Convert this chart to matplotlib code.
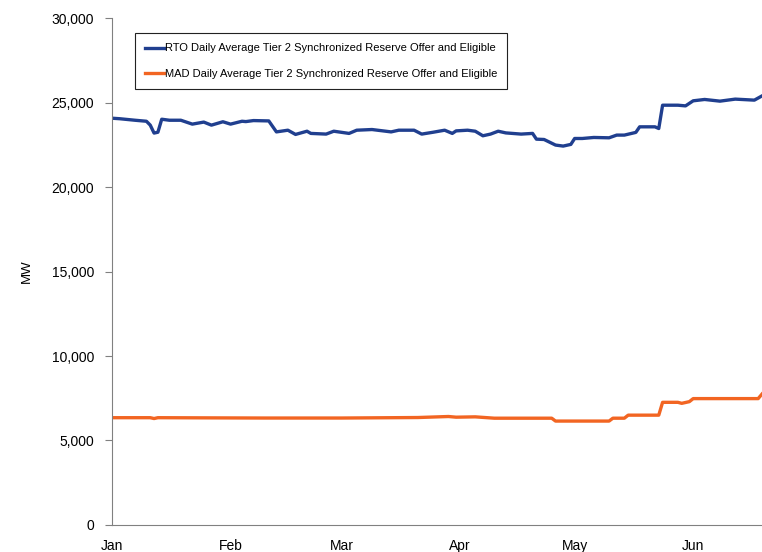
import matplotlib
matplotlib.use('Agg')
import matplotlib.pyplot as plt
from matplotlib.ticker import FuncFormatter

# day offsets from Jan 1
rto_days = [0, 2, 6, 9, 10, 11, 12, 13, 15, 18, 21, 24, 26, 29, 31, 34, 35, 37, 41,
            43, 46, 48, 51, 52, 56, 58, 62, 64, 68, 73, 75, 79, 81, 84, 87, 89, 90,
            93, 95, 97, 99, 101, 103, 107, 110, 111, 113, 116, 118, 120, 121, 123,
            126, 130, 132, 134, 137, 138, 142, 143, 144, 148, 150, 152, 155, 159,
            163, 168, 170]
rto_mw = [24080, 24050, 23960, 23900, 23670, 23200, 23250, 24020, 23960, 23960,
          23730, 23850, 23670, 23870, 23730, 23900, 23880, 23940, 23920,
          23270, 23370, 23120, 23310, 23180, 23140, 23310, 23180, 23370, 23410,
          23270, 23370, 23370, 23140, 23250, 23370, 23180, 23330,
          23370, 23310, 23040, 23140, 23310, 23210, 23140, 23180, 22840, 22820,
          22490, 22430, 22530, 22880, 22880,
          22940, 22920, 23080, 23080, 23240, 23570, 23570, 23470, 24850, 24850,
          24810, 25110, 25190, 25090, 25210, 25150, 25400]

mad_days = [0, 10, 11, 12, 25, 40, 60, 80, 88, 90, 95, 100, 115, 116, 130, 131,
            134, 135, 143, 144, 148, 149, 151, 152, 169, 170]
mad_mw = [6350, 6350, 6300, 6350, 6340, 6330, 6330, 6360, 6420, 6380, 6400, 6320,
          6320, 6150, 6150, 6320, 6320, 6500, 6500, 7260, 7260, 7200, 7300, 7480,
          7480, 7750]

month_labels = ['Jan', 'Feb', 'Mar', 'Apr', 'May', 'Jun']
month_starts = [0, 31, 60, 91, 121, 152]

plt.rcParams['font.family'] = ['Liberation Sans', 'DejaVu Sans']

fig = plt.figure(figsize=(7.62, 5.52), dpi=100)
ax = fig.add_axes([0.147, 0.049, 0.853, 0.918])

ax.plot(rto_days, rto_mw, color='#203f8f', lw=2.4,
        label='RTO Daily Average Tier 2 Synchronized Reserve Offer and Eligible')
ax.plot(mad_days, mad_mw, color='#f26522', lw=2.4,
        label='MAD Daily Average Tier 2 Synchronized Reserve Offer and Eligible')

ax.set_xlim(0, 170)
ax.set_ylim(0, 30000)
ax.set_yticks(range(0, 30001, 5000))
ax.yaxis.set_major_formatter(FuncFormatter(lambda v, p: f'{int(v):,}'))
ax.set_xticks(month_starts)
ax.set_xticklabels(month_labels)
ax.set_ylabel('MW', fontsize=9.5)
ax.yaxis.set_label_coords(-0.122, 0.5)

for s in ['top', 'right']:
    ax.spines[s].set_visible(False)
for s in ['left', 'bottom']:
    ax.spines[s].set_color('#808080')
ax.tick_params(axis='y', length=5, color='#808080', labelsize=10, pad=8)
ax.tick_params(axis='x', length=0, labelsize=10, pad=10)

leg = ax.legend(loc='upper left', bbox_to_anchor=(0.035, 0.97), fontsize=8,
                frameon=True, fancybox=False, edgecolor='#222222', framealpha=1,
                handlelength=1.7, handletextpad=0.1, labelspacing=1.4,
                borderpad=0.9, borderaxespad=0)
leg.get_frame().set_linewidth(0.8)

fig.savefig('out.png', dpi=100)
